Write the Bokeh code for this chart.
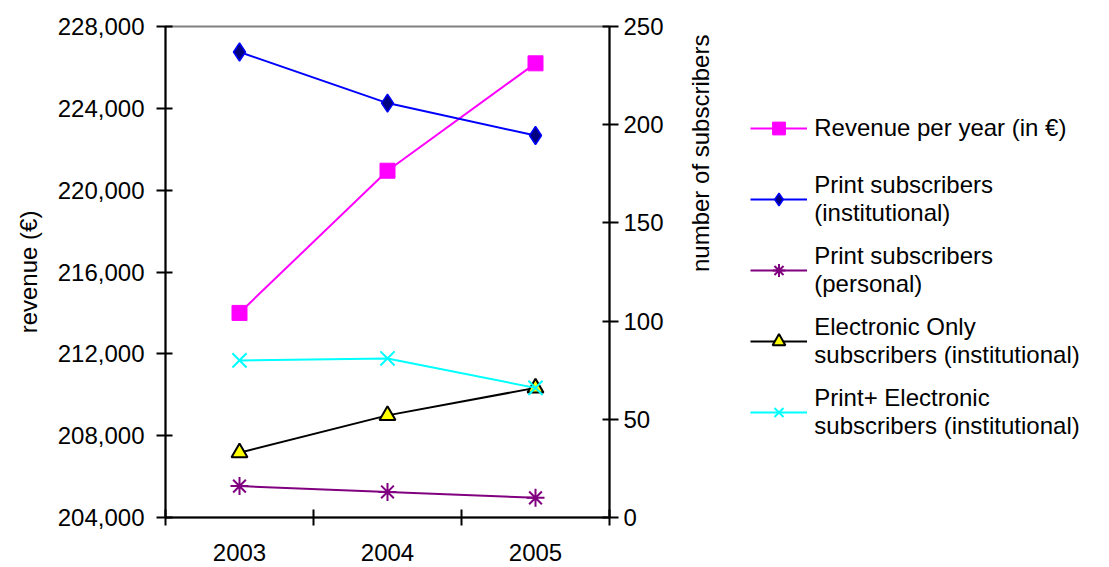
import math
from bokeh.plotting import figure
from bokeh.models import (Range1d, LinearAxis, FixedTicker, Legend, LegendItem,
                          NumeralTickFormatter)
from bokeh.embed import file_html
from bokeh.resources import INLINE

years = ["2003", "2004", "2005"]
revenue = [214000, 220950, 226200]
print_inst = [237, 211, 194.5]
print_personal = [16, 13, 10]
electronic_only = [33, 52, 66]
print_electronic = [80, 81, 66]

rev_ticks = [204000, 208000, 212000, 216000, 220000, 224000, 228000]
sub_ticks = [0, 50, 100, 150, 200, 250]

x = [i + 0.5 for i in range(len(years))]
bounds = [i for i in range(len(years) + 1)]

FONT = "Liberation Sans"
FS = "24px"

p = figure(frame_width=444, frame_height=491,
           x_range=Range1d(0, len(years)), y_range=Range1d(rev_ticks[0], rev_ticks[-1]),
           output_backend="svg", toolbar_location=None,
           min_border_left=165, min_border_top=26, min_border_bottom=50,
           min_border_right=0)
p.extra_y_ranges = {"subs": Range1d(sub_ticks[0], sub_ticks[-1])}
p.xgrid.visible = False
p.ygrid.visible = False
p.outline_line_color = "#808080"
p.outline_line_width = 2
p.background_fill_color = "white"
p.border_fill_color = "white"

# x axis
xa = p.xaxis[0]
xa.ticker = FixedTicker(ticks=x, minor_ticks=bounds)
xa.major_label_overrides = {xi: y for xi, y in zip(x, years)}
xa.major_tick_line_color = None
xa.major_tick_in = 0
xa.major_tick_out = 0
xa.minor_tick_in = 8
xa.minor_tick_out = 8
xa.minor_tick_line_width = 2
xa.minor_tick_line_color = "black"
xa.major_label_standoff = 18
xa.axis_line_width = 2
xa.axis_line_color = "black"
xa.major_label_text_font = FONT
xa.major_label_text_font_size = FS
xa.major_label_text_color = "black"

# left axis
ya = p.yaxis[0]
ya.ticker = FixedTicker(ticks=rev_ticks)
ya.formatter = NumeralTickFormatter(format="0,0")
ya.axis_label = "revenue (€)"

ra = LinearAxis(y_range_name="subs", ticker=FixedTicker(ticks=sub_ticks),
                axis_label="number of subscribers")
p.add_layout(ra, "right")

for ax in [ya, ra]:
    ax.major_tick_in = 7
    ax.major_tick_out = 9
    ax.minor_tick_line_color = None
    ax.major_tick_line_width = 2
    ax.major_tick_line_color = "black"
    ax.axis_line_width = 2
    ax.axis_line_color = "black"
    ax.major_label_text_font = FONT
    ax.major_label_text_font_size = FS
    ax.major_label_text_color = "black"
    ax.axis_label_text_font = FONT
    ax.axis_label_text_font_size = FS
    ax.axis_label_text_font_style = "normal"
    ax.axis_label_text_color = "black"
ya.major_label_standoff = 12
ya.axis_label_standoff = 13
ra.major_label_standoff = 5
ra.axis_label_standoff = 34
ra.axis_label_orientation = math.pi / 2
ra.axis_label_text_align = "center"

# series
items = []

l1 = p.line(x, revenue, line_color="#FF00FF", line_width=2)
m1 = p.scatter(x, revenue, marker="square", size=15, fill_color="#FF00FF", line_color="#FF00FF")
items.append(LegendItem(label="Revenue per year (in €)", renderers=[l1, m1]))

l2 = p.line(x, print_inst, y_range_name="subs", line_color="#0000FF", line_width=2)
m2 = p.scatter(x, print_inst, y_range_name="subs", marker="diamond", size=18,
               fill_color="#000080", line_color="#0000FF", line_width=1.5)
items.append(LegendItem(label="Print subscribers\n(institutional)", renderers=[l2, m2]))

l3 = p.line(x, print_personal, y_range_name="subs", line_color="#800080", line_width=2)
m3 = p.scatter(x, print_personal, y_range_name="subs", marker="asterisk", size=18,
               line_color="#800080", line_width=2)
items.append(LegendItem(label="Print subscribers\n(personal)", renderers=[l3, m3]))

l4 = p.line(x, electronic_only, y_range_name="subs", line_color="black", line_width=2)
m4 = p.scatter(x, electronic_only, y_range_name="subs", marker="triangle", size=16,
               fill_color="#FFFF00", line_color="black", line_width=2)
items.append(LegendItem(label="Electronic Only\nsubscribers (institutional)", renderers=[l4, m4]))

l5 = p.line(x, print_electronic, y_range_name="subs", line_color="#00FFFF", line_width=2)
m5 = p.scatter(x, print_electronic, y_range_name="subs", marker="x", size=20,
               line_color="#00FFFF", line_width=2)
items.append(LegendItem(label="Print+ Electronic\nsubscribers (institutional)", renderers=[l5, m5]))

legend = Legend(items=items, location=(-201, 76),
                label_text_font=FONT, label_text_font_size=FS, label_text_color="black",
                glyph_width=57, glyph_height=32, label_height=58, label_standoff=7,
                spacing=13, padding=0, margin=0,
                border_line_color=None, background_fill_alpha=0)
p.add_layout(legend, "right")

open("out.html", "w").write(file_html(p, INLINE))
